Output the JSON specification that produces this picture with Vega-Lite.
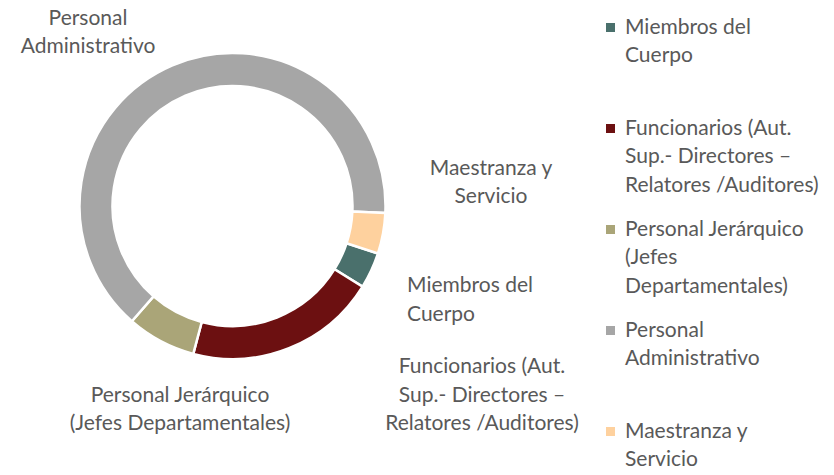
{
  "$schema": "https://vega.github.io/schema/vega-lite/v6.json",
  "width": 465,
  "height": 412,
  "padding": {"left": 0, "top": 0, "right": 369, "bottom": 63},
  "autosize": {"type": "none"},
  "background": "white",
  "config": {"view": {"stroke": null}, "font": "Lato", "style": {"guide-label": {"lineHeight": 28.5}}},
  "data": {
    "values": [
      {"orden": 1, "categoria": "Miembros del Cuerpo", "etiqueta": "Miembros del\nCuerpo", "leyenda": "Miembros del\nCuerpo", "valor": 3.8},
      {"orden": 2, "categoria": "Funcionarios (Aut. Sup.- Directores – Relatores /Auditores)", "etiqueta": "Funcionarios (Aut.\nSup.-  Directores –\nRelatores /Auditores)", "leyenda": "Funcionarios (Aut.\nSup.-  Directores –\nRelatores /Auditores)", "valor": 20.3},
      {"orden": 3, "categoria": "Personal Jerárquico (Jefes Departamentales)", "etiqueta": "Personal Jerárquico\n(Jefes Departamentales)", "leyenda": "Personal Jerárquico\n(Jefes\nDepartamentales)", "valor": 7.3},
      {"orden": 4, "categoria": "Personal Administrativo", "etiqueta": "Personal\nAdministrativo", "leyenda": "Personal\nAdministrativo", "valor": 64.3},
      {"orden": 5, "categoria": "Maestranza y Servicio", "etiqueta": "Maestranza y\nServicio", "leyenda": "Maestranza y\nServicio", "valor": 4.3}
    ]
  },
  "encoding": {
    "theta": {"field": "valor", "type": "quantitative", "stack": true, "scale": {"range": [1.8867, 8.16989]}},
    "order": {"field": "orden", "type": "quantitative"}
  },
  "layer": [
    {
      "mark": {"type": "arc", "radius": 153, "radius2": 120, "stroke": "white", "strokeWidth": 2.5},
      "encoding": {
        "color": {
          "field": "leyenda",
          "type": "nominal",
          "sort": null,
          "scale": {"range": ["#4a706c", "#6c1011", "#aaa578", "#a6a6a6", "#fed19e"]},
          "legend": {
            "orient": "none",
            "legendX": 600,
            "legendY": 17,
            "title": null,
            "symbolType": "square",
            "symbolSize": 81,
            "symbolStrokeWidth": 0,
            "labelFontSize": 21,
            "labelColor": "#595959",
            "labelFont": "Lato",
            "labelOffset": 4,
            "labelLimit": 0,
            "labelBaseline": "middle",
            "rowPadding": 22,
            "padding": 0,
            "labelExpr": "length(split(datum.label, '\\n')) == 2 ? split(datum.label + '\\n ', '\\n') : split(datum.label, '\\n')",
            "encode": {
              "labels": {
                "lineHeight": {"value": 28.5},
                "dy": {"value": 3}
              }
            }
          }
        }
      }
    },
    {
      "mark": {"type": "text", "radius": 154, "dx": -84, "dy": -39.4, "align": "center", "baseline": "alphabetic", "lineBreak": "\n", "lineHeight": 28.5, "fontSize": 21, "color": "#595959"},
      "encoding": {"text": {"condition": {"test": "datum.orden == 4", "field": "etiqueta"}, "value": ""}}
    },
    {
      "mark": {"type": "text", "radius": 154, "dx": 107, "dy": -58.7, "align": "center", "baseline": "alphabetic", "lineBreak": "\n", "lineHeight": 28.5, "fontSize": 21, "color": "#595959"},
      "encoding": {"text": {"condition": {"test": "datum.orden == 5", "field": "etiqueta"}, "value": ""}}
    },
    {
      "mark": {"type": "text", "radius": 154, "dx": 34.9, "dy": 21.1, "align": "left", "baseline": "alphabetic", "lineBreak": "\n", "lineHeight": 28.5, "fontSize": 21, "color": "#595959"},
      "encoding": {"text": {"condition": {"test": "datum.orden == 1", "field": "etiqueta"}, "value": ""}}
    },
    {
      "mark": {"type": "text", "radius": 154, "dx": 192.6, "dy": 24.2, "align": "center", "baseline": "alphabetic", "lineBreak": "\n", "lineHeight": 28.5, "fontSize": 21, "color": "#595959"},
      "encoding": {"text": {"condition": {"test": "datum.orden == 2", "field": "etiqueta"}, "value": ""}}
    },
    {
      "mark": {"type": "text", "radius": 154, "dx": 19.8, "dy": 59.7, "align": "center", "baseline": "alphabetic", "lineBreak": "\n", "lineHeight": 28.5, "fontSize": 21, "color": "#595959"},
      "encoding": {"text": {"condition": {"test": "datum.orden == 3", "field": "etiqueta"}, "value": ""}}
    }
  ]
}
